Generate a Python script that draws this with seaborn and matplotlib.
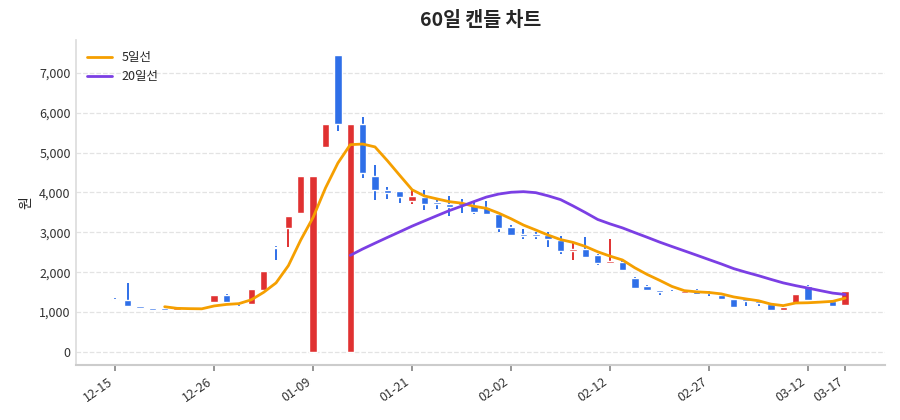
import numpy as np
import pandas as pd
import matplotlib
matplotlib.use("Agg")
from matplotlib import pyplot as plt
import seaborn as sns

# 60 trading days
opens = [1330, 1300, 1140, 1110, 1090, 1060, 1110, 1100, 1240, 1420,
         1260, 1200, 1560, 2640, 3120, 3480, 0, 5130, 7440, 0,
         5720, 4420, 4060, 4040, 3790, 3880, 3750, 3700, 3770, 3690,
         3640, 3470, 3140, 2950, 2950, 2930, 2800, 2540, 2580, 2430,
         2230, 2250, 1860, 1650, 1550, 1530, 1480, 1560, 1500, 1430,
         1320, 1320, 1280, 1200, 1050, 1220, 1650, 1270, 1280, 1180]
closes = [1300, 1140, 1110, 1060, 1050, 1100, 1100, 1090, 1420, 1240,
          1200, 1580, 2030, 2600, 3410, 4420, 4420, 5720, 5720, 5720,
          4500, 4060, 3990, 3880, 3910, 3720, 3700, 3640, 3690, 3520,
          3460, 3100, 2930, 2900, 2900, 2820, 2540, 2580, 2390, 2230,
          2270, 2060, 1600, 1550, 1500, 1500, 1530, 1450, 1470, 1320,
          1120, 1280, 1220, 1050, 1130, 1450, 1310, 1300, 1150, 1530]
highs = [1340, 1720, 1150, 1110, 1140, 1100, 1110, 1100, 1430, 1440,
         1260, 1580, 2030, 2650, 3410, 4420, 4420, 5720, 7440, 5720,
         5890, 4690, 4140, 4040, 4050, 4050, 3860, 3920, 3840, 3770,
         3780, 3470, 3190, 3080, 3000, 3000, 2910, 2730, 2890, 2460,
         2830, 2330, 1870, 1690, 1560, 1540, 1540, 1570, 1520, 1440,
         1330, 1340, 1300, 1210, 1140, 1450, 1690, 1310, 1290, 1530]
lows = [1290, 1130, 1100, 1050, 1030, 1060, 1090, 1080, 1230, 1230,
        1160, 1190, 1550, 2310, 2630, 3470, 0, 5120, 5550, 0,
        4360, 3810, 3830, 3740, 3710, 3550, 3580, 3400, 3490, 3460,
        3460, 3020, 2930, 2830, 2820, 2640, 2460, 2310, 2350, 2180,
        2200, 2050, 1590, 1520, 1430, 1480, 1470, 1440, 1400, 1310,
        1110, 1150, 1150, 1040, 1040, 1210, 1280, 1260, 1140, 1170]
tick_idx = [0, 8, 16, 24, 32, 40, 48, 56, 59]
tick_labels = ['12-15', '12-26', '01-09', '01-21', '02-02', '02-12', '02-27', '03-12', '03-17']

df = pd.DataFrame({'open': opens, 'close': closes, 'high': highs, 'low': lows})
df['idx'] = np.arange(len(df))
df['ma5'] = df['close'].rolling(5).mean()
df['ma20'] = df['close'].rolling(20).mean()

sns.set_theme(style='white')
plt.rcParams['font.family'] = ['Noto Sans CJK KR', 'DejaVu Sans']

fig = plt.figure(figsize=(9, 4.2), dpi=100)
ax = fig.add_axes([0.084, 0.131, 0.899, 0.774])

up = df['close'] >= df['open']
colors = np.where(up, '#e03131', '#2f6fe8')
body = (df['close'] - df['open']).abs().clip(lower=25)
bottom = df[['open', 'close']].min(axis=1)
ax.vlines(df['idx'], df['low'], df['high'], colors=colors, linewidth=1.4, zorder=2)
ax.bar(df['idx'], body, bottom=bottom, width=0.6, color=colors, zorder=3)

sns.lineplot(data=df, x='idx', y='ma5', color='#f59f00', linewidth=2, label='5일선', ax=ax, zorder=4)
sns.lineplot(data=df, x='idx', y='ma20', color='#7b3fe4', linewidth=2, label='20일선', ax=ax, zorder=4)

ax.set_xlim(-3.2, 62.2)
ax.set_ylim(-330, 7830)
ax.set_xticks(tick_idx)
ax.set_xticklabels(tick_labels, rotation=35, ha='right', fontsize=9, color='#333333')
ax.set_yticks(range(0, 8000, 1000))
ax.yaxis.set_major_formatter(matplotlib.ticker.FuncFormatter(lambda v, p: f'{int(v):,}'))
ax.tick_params(axis='y', labelsize=9, colors='#333333', length=0)
ax.tick_params(axis='x', length=4, color='#888888', bottom=True)
ax.grid(axis='y', linestyle='--', color='#e3e3e3', linewidth=0.9)
ax.set_axisbelow(True)
for s in ['top', 'right']:
    ax.spines[s].set_visible(False)
ax.spines['left'].set_color('#dddddd')
ax.spines['bottom'].set_color('#cccccc')
ax.spines['bottom'].set_linewidth(1.5)
ax.set_xlabel('')
ax.set_ylabel('원', fontsize=10)
ax.set_title('60일 캔들 차트', fontsize=14, fontweight='bold', pad=10)
ax.legend(loc='upper left', frameon=False, fontsize=9)

fig.savefig('out.png', dpi=100)
